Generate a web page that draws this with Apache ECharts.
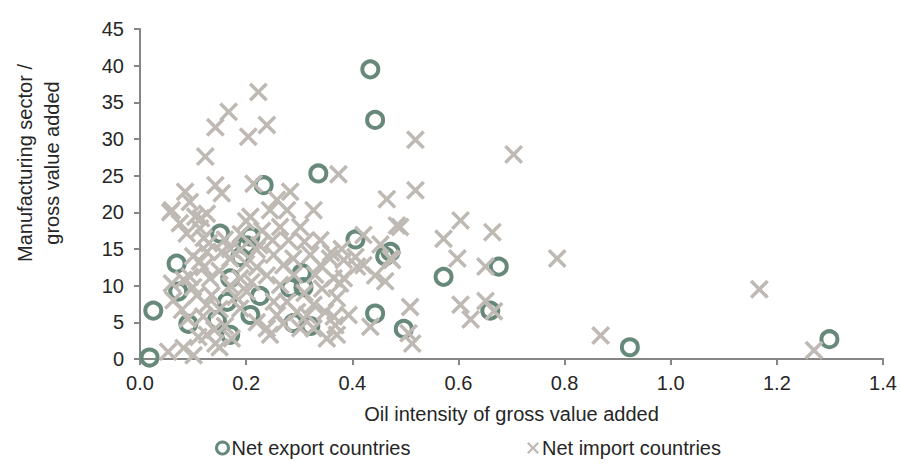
<!DOCTYPE html>
<html>
<head>
<meta charset="utf-8">
<script src="https://cdn.jsdelivr.net/npm/echarts@6/dist/echarts.min.js"></script>
<style>
html,body{margin:0;padding:0;background:#fff;}
#chart{width:901px;height:469px;}
</style>
</head>
<body>
<div id="chart"></div>
<script>
const xTicks = [0.0, 0.2, 0.4, 0.6, 0.8, 1.0, 1.2, 1.4];
const yTicks = [0, 5, 10, 15, 20, 25, 30, 35, 40, 45];
const seriesNames = ['Net export countries', 'Net import countries'];

const exportX = [0.018,0.025,0.069,0.072,0.091,0.151,0.170,0.164,0.170,0.145,0.208,0.201,0.208,0.226,0.233,0.283,0.308,0.289,0.321,0.336,0.406,0.434,0.443,0.443,0.462,0.472,0.497,0.572,0.660,0.676,0.923,1.299,0.189,0.305];
const exportY = [0.2,6.6,13.0,9.2,4.8,17.1,3.3,7.8,11.0,5.3,16.7,15.5,6.0,8.6,23.7,9.7,9.8,4.9,4.5,25.3,16.3,39.5,32.6,6.2,14.0,14.6,4.1,11.2,6.6,12.6,1.6,2.7,13.9,11.7];

const importX = [0.223,0.167,0.142,0.239,0.204,0.123,0.374,0.519,0.704,0.519,0.465,
0.085,0.142,0.154,0.214,0.283,0.258,0.327,0.060,0.094,0.104,0.075,0.126,0.113,0.088,0.208,0.277,0.245,0.340,0.302,0.264,0.057,0.115,0.200,0.190,0.230,0.250,0.225,0.280,0.310,0.160,0.170,0.130,0.100,0.120,
0.484,0.604,0.572,0.664,0.421,0.453,0.475,0.598,0.651,0.786,0.384,0.409,0.443,0.462,0.377,0.604,0.623,0.651,0.667,0.509,0.513,0.506,0.434,0.393,0.371,0.365,0.421,0.384,0.472,0.406,0.868,1.167,1.270,0.380,0.360,0.490,
0.053,0.082,0.101,0.126,0.142,0.173,0.060,0.094,0.113,0.126,0.154,0.170,0.189,0.220,0.252,0.270,0.289,0.321,0.340,0.358,0.365,0.343,0.327,0.349,0.371,0.368,0.352,0.107,0.126,0.119,0.135,0.132,0.082,0.063,0.079,0.189,0.201,0.189,0.239,0.245,0.258,0.252,0.264,0.239,0.277,0.296,0.315,0.327,0.302,0.150,0.160,0.150,0.180,0.170,0.210,0.220,0.200,0.150,0.120,0.100,0.220,0.270,0.310,0.330,0.290,0.140,0.090,0.110];
const importY = [36.4,33.7,31.6,31.9,30.3,27.6,25.2,29.9,27.9,23.0,21.8,
22.8,23.7,22.6,23.9,22.8,21.7,20.3,20.3,21.4,19.4,18.5,19.8,17.8,17.1,19.4,20.3,20.3,16.2,18.0,18.0,20.0,19.2,18.8,17.0,17.5,16.2,15.5,16.2,16.0,16.3,15.0,15.8,14.0,16.5,
18.2,18.9,16.4,17.3,16.9,15.6,13.5,13.7,12.6,13.7,13.5,12.6,11.4,10.6,10.3,7.4,5.4,7.9,6.5,7.1,2.1,3.5,4.4,6.0,3.3,5.8,12.8,11.0,13.7,13.9,3.2,9.5,1.2,15.0,14.5,18.0,
1.0,1.5,0.5,3.3,2.1,2.8,10.3,11.2,13.3,14.6,14.6,13.7,14.9,14.9,14.2,12.8,13.7,14.2,12.8,13.7,11.0,9.6,7.4,6.4,8.3,4.6,2.8,8.7,7.4,5.8,8.7,11.0,10.8,8.0,6.7,11.0,9.2,6.9,4.2,3.3,6.0,7.8,10.1,11.4,7.8,6.4,6.0,4.2,4.2,1.6,4.5,6.8,8.5,10.0,10.5,12.5,13.0,12.0,12.5,9.8,5.0,4.8,9.0,11.5,11.5,4.0,5.5,3.0];

const GREEN = '#66897A';
const GREY = '#BFB9B4';
const AXIS = '#868686';
const TEXT = '#262626';
const FONT = 'Liberation Sans, Arial, sans-serif';
const XPATH = 'path://M2.6,0L10,7.4L17.4,0L20,2.6L12.6,10L20,17.4L17.4,20L10,12.6L2.6,20L0,17.4L7.4,10L0,2.6Z';

const zip = (xs, ys) => xs.map((x, i) => [x, ys[i]]);

const chart = echarts.init(document.getElementById('chart'), null, {renderer: 'svg'});
chart.setOption({
  animation: false,
  backgroundColor: '#fff',
  textStyle: {fontFamily: FONT, color: TEXT},
  grid: {left: 140, right: 18, top: 29, bottom: 110, containLabel: false},
  xAxis: {
    type: 'value', min: xTicks[0], max: xTicks[xTicks.length - 1], interval: 0.2,
    name: 'Oil intensity of gross value added', nameLocation: 'middle', nameGap: 45,
    nameTextStyle: {fontSize: 20, color: TEXT, fontFamily: FONT},
    axisLine: {show: true, lineStyle: {color: AXIS, width: 2}},
    axisTick: {show: true, length: 6, lineStyle: {color: AXIS, width: 2}},
    axisLabel: {fontSize: 20, color: TEXT, fontFamily: FONT, margin: 14, formatter: v => v.toFixed(1)},
    splitLine: {show: false}
  },
  yAxis: {
    type: 'value', min: yTicks[0], max: yTicks[yTicks.length - 1], interval: 5,
    axisLine: {show: true, lineStyle: {color: AXIS, width: 2}},
    axisTick: {show: true, length: 6, lineStyle: {color: AXIS, width: 2}},
    axisLabel: {fontSize: 20, color: TEXT, fontFamily: FONT, margin: 16},
    splitLine: {show: false}
  },
  graphic: [{
    type: 'text', x: 38, y: 163, rotation: Math.PI / 2,
    style: {text: 'Manufacturing sector /\ngross value added', fontSize: 20, fontFamily: FONT,
      fill: TEXT, align: 'center', verticalAlign: 'middle', lineHeight: 27}
  }],
  legend: [{
    data: [{name: seriesNames[0], icon: 'circle'}],
    left: 210, top: 433, itemWidth: 12, itemHeight: 12, itemGap: 5,
    itemStyle: {color: 'rgba(0,0,0,0)', borderColor: GREEN, borderWidth: 3},
    textStyle: {fontSize: 20, color: TEXT, fontFamily: FONT, padding: [0,0,0,-2]}
  }, {
    data: [{name: seriesNames[1], icon: XPATH}],
    left: 522, top: 433, itemWidth: 12, itemHeight: 12, itemGap: 5,
    itemStyle: {color: GREY, borderWidth: 0},
    textStyle: {fontSize: 20, color: TEXT, fontFamily: FONT, padding: [0,0,0,-2]}
  }],
  series: [{
    name: seriesNames[0], type: 'scatter', symbol: 'circle', symbolSize: 16,
    itemStyle: {color: 'rgba(0,0,0,0)', borderColor: GREEN, borderWidth: 4, opacity: 1},
    emphasis: {disabled: true},
    data: zip(exportX, exportY), z: 2
  }, {
    name: seriesNames[1], type: 'scatter', symbol: XPATH, symbolSize: 19,
    itemStyle: {color: GREY, opacity: 1},
    emphasis: {disabled: true},
    data: zip(importX, importY), z: 3
  }]
});
</script>
</body>
</html>
